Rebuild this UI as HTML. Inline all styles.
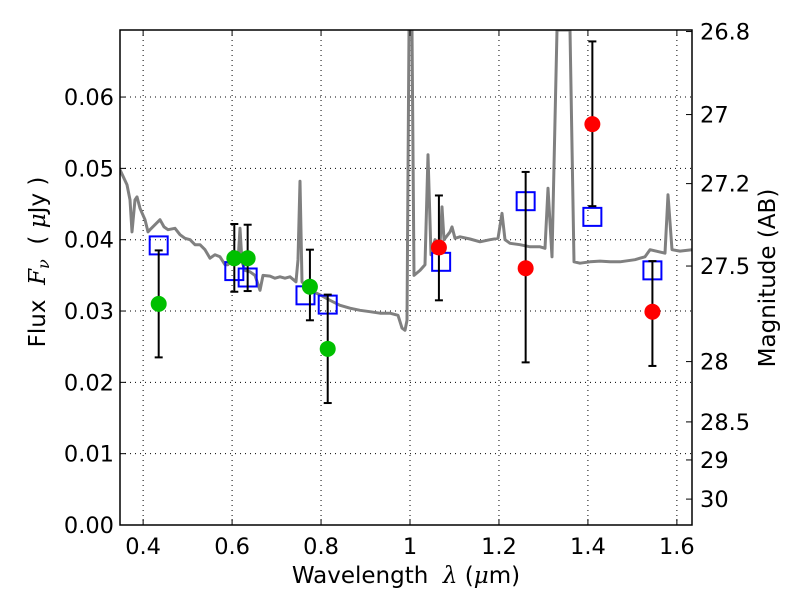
<!DOCTYPE html>
<html><head><meta charset="utf-8"><style>
html,body{margin:0;padding:0;background:#fff;}
svg{display:block;font-family:"DejaVu Sans","Liberation Sans",sans-serif;}
</style></head><body>
<svg id="chart" width="800" height="600"></svg>
<script>
const xTicks=[0.4,0.6,0.8,1.0,1.2,1.4,1.6];
const xTickLabels=["0.4","0.6","0.8","1","1.2","1.4","1.6"];
const yTicks=[0,0.01,0.02,0.03,0.04,0.05,0.06];
const yTickLabels=["0.00","0.01","0.02","0.03","0.04","0.05","0.06"];
const magTicks=[26.8,27,27.2,27.5,28,28.5,29,30];
const magTickLabels=["26.8","27","27.2","27.5","28","28.5","29","30"];
const greenX=[0.435,0.605,0.635,0.775,0.815];
const greenY=[0.031,0.0374,0.0374,0.0334,0.0247];
const greenLo=[0.0235,0.0327,0.0328,0.0287,0.0171];
const greenHi=[0.0385,0.0422,0.0421,0.0386,0.0323];
const redX=[1.065,1.26,1.41,1.545];
const redY=[0.0389,0.0360,0.0562,0.0299];
const redLo=[0.0315,0.0228,0.0447,0.0223];
const redHi=[0.0462,0.0495,0.0678,0.0370];
const boxX=[0.435,0.605,0.635,0.765,0.815,1.07,1.26,1.41,1.545];
const boxY=[0.0392,0.0356,0.0347,0.0322,0.0309,0.0369,0.0454,0.0432,0.0357];
const specX=[0.348,0.3637,0.3705,0.375,0.3817,0.3862,0.393,0.4042,0.411,0.4155,0.4267,0.438,0.4469,0.4559,0.4717,0.4829,0.4941,0.5054,0.5166,0.5279,0.5391,0.5503,0.5616,0.5728,0.5841,0.5908,0.5998,0.6133,0.6178,0.6223,0.629,0.6403,0.6515,0.6628,0.6695,0.6852,0.6965,0.7077,0.719,0.7302,0.7437,0.7482,0.7527,0.7572,0.7639,0.7752,0.8,0.8201,0.8426,0.8651,0.8876,0.9101,0.9326,0.955,0.973,0.982,0.9888,0.9933,0.9978,1.0045,1.009,1.0225,1.0337,1.0405,1.0472,1.0562,1.0675,1.072,1.0764,1.0899,1.0944,1.1012,1.1124,1.1349,1.1574,1.1799,1.1979,1.2069,1.2136,1.2248,1.2473,1.2698,1.2923,1.3035,1.3103,1.3193,1.3305,1.3597,1.3687,1.3822,1.4047,1.4272,1.4497,1.4722,1.5059,1.5171,1.5284,1.5396,1.5733,1.58,1.589,1.607,1.634];
const specY=[0.0498,0.0477,0.0456,0.0411,0.0456,0.046,0.0444,0.0428,0.0411,0.0414,0.0421,0.0428,0.0418,0.0414,0.0416,0.0407,0.0402,0.04,0.0393,0.0393,0.0386,0.0374,0.0379,0.0376,0.0365,0.0365,0.0374,0.0369,0.0416,0.0369,0.0357,0.0355,0.035,0.0329,0.035,0.0349,0.0346,0.0348,0.0346,0.0348,0.0341,0.0372,0.0482,0.0341,0.0336,0.0329,0.0322,0.0315,0.0308,0.0304,0.0301,0.0299,0.0297,0.0297,0.0294,0.0276,0.0273,0.0287,0.0694,0.0694,0.035,0.0357,0.0365,0.0519,0.0379,0.04,0.0393,0.0446,0.04,0.0411,0.0418,0.0402,0.0404,0.0401,0.0397,0.04,0.0402,0.0437,0.04,0.0395,0.0393,0.039,0.039,0.0388,0.0472,0.0376,0.0694,0.0694,0.0369,0.0367,0.0369,0.037,0.0369,0.0369,0.0372,0.0374,0.0376,0.0386,0.0381,0.0463,0.0386,0.0384,0.0386];

const NS="http://www.w3.org/2000/svg";
const svg=document.getElementById('chart');
const L=120,R=692,T=30,B=525;
const xMin=0.348,xMax=1.634,yMin=0,yMax=0.0694;
const sx=v=>L+(v-xMin)/(xMax-xMin)*(R-L);
const sy=v=>B-(v-yMin)/(yMax-yMin)*(B-T);
const magToFlux=m=>Math.pow(10,(23.9-m)/2.5);
function mk(tag,attrs,parent){const e=document.createElementNS(NS,tag);for(const k in attrs)e.setAttribute(k,attrs[k]);(parent||svg).appendChild(e);return e;}

const defs=mk('clipPath',{id:'clip'});mk('rect',{x:L,y:T,width:R-L,height:B-T},defs);
const grid=mk('g',{});


xTicks.forEach(t=>mk('line',{x1:sx(t),x2:sx(t),y1:T,y2:B,stroke:'#000','stroke-width':1,'stroke-dasharray':'1,4'},grid));
yTicks.forEach(t=>mk('line',{x1:L,x2:R,y1:sy(t),y2:sy(t),stroke:'#000','stroke-width':1,'stroke-dasharray':'1,4'},grid));

const plot=mk('g',{'clip-path':'url(#clip)'});
let d='';specX.forEach((x,i)=>{d+=(i?'L':'M')+sx(x).toFixed(1)+','+sy(specY[i]).toFixed(1);});
const sp=mk('path',{d:d,fill:'none',stroke:'#808080','stroke-width':3,'stroke-linejoin':'round'},plot);



function errbar(x,lo,hi,name){
  const g=mk('g',{},plot);
  
  
  mk('line',{x1:sx(x),x2:sx(x),y1:sy(lo),y2:sy(hi),stroke:'#000','stroke-width':2},g);
  mk('line',{x1:sx(x)-4,x2:sx(x)+4,y1:sy(lo),y2:sy(lo),stroke:'#000','stroke-width':2},g);
  mk('line',{x1:sx(x)-4,x2:sx(x)+4,y1:sy(hi),y2:sy(hi),stroke:'#000','stroke-width':2},g);
}
boxX.forEach((x,i)=>{const r=mk('rect',{x:sx(x)-9,y:sy(boxY[i])-9,width:18,height:18,fill:'none',stroke:'#0000ff','stroke-width':2},plot);
  
  });
greenX.forEach((x,i)=>{errbar(x,greenLo[i],greenHi[i],'green-error-bar');
  const c=mk('circle',{cx:sx(x),cy:sy(greenY[i]),r:8,fill:'#00c000'},plot);
  
  });
redX.forEach((x,i)=>{errbar(x,redLo[i],redHi[i],'red-error-bar');
  const c=mk('circle',{cx:sx(x),cy:sy(redY[i]),r:8,fill:'#ff0000'},plot);
  
  });

const fr=mk('rect',{x:L,y:T,width:R-L,height:B-T,fill:'none',stroke:'#000','stroke-width':1.5});



const ax=mk('g',{'font-size':22.5,fill:'#000'});
xTicks.forEach((t,i)=>{mk('line',{x1:sx(t),x2:sx(t),y1:B,y2:B-6,stroke:'#000'},ax);mk('line',{x1:sx(t),x2:sx(t),y1:T,y2:T+6,stroke:'#000'},ax);
  const e=mk('text',{x:sx(t),y:B+29,'text-anchor':'middle'},ax);e.textContent=xTickLabels[i];
  
  });
yTicks.forEach((t,i)=>{mk('line',{x1:L,x2:L+6,y1:sy(t),y2:sy(t),stroke:'#000'},ax);
  const e=mk('text',{x:L-6,y:sy(t)+8,'text-anchor':'end'},ax);e.textContent=yTickLabels[i];
  
  });
magTicks.forEach((m,i)=>{const y=sy(magToFlux(m));mk('line',{x1:R,x2:R-6,y1:y,y2:y,stroke:'#000'},ax);
  const e=mk('text',{x:R+8,y:y+8,'text-anchor':'start'},ax);e.textContent=magTickLabels[i];
  
  });

const xt=mk('text',{x:406,y:583,'text-anchor':'middle','font-size':23});
xt.innerHTML='Wavelength&#160;&#160;<tspan font-family="DejaVu Serif,serif" font-style="italic">λ</tspan> (<tspan font-family="DejaVu Serif,serif" font-style="italic">μ</tspan>m)';


const yt=mk('text',{x:0,y:0,'text-anchor':'middle','font-size':23,transform:'translate(45,262) rotate(-90)'});
yt.innerHTML='Flux&#160;&#160;<tspan font-family="DejaVu Serif,serif" font-style="italic">F<tspan font-size="16" dy="4">ν</tspan></tspan><tspan dy="-4">&#160;&#160;(&#160;</tspan><tspan font-family="DejaVu Serif,serif" font-style="italic">μ</tspan>Jy )';


const rt=mk('text',{x:0,y:0,'text-anchor':'middle','font-size':23,transform:'translate(775,278) rotate(-90)'});
rt.textContent='Magnitude (AB)';


</script>
</body></html>
